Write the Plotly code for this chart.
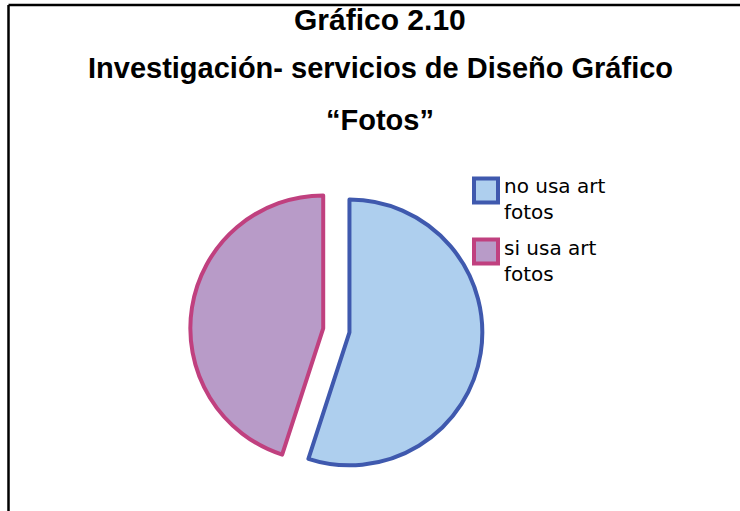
import plotly.graph_objects as go

# datos del grafico
etiquetas = ['no usa art<br>fotos', 'si usa art<br>fotos']
valores = [55, 45]
colores = ['#AECFEE', '#B89BC8']
bordes = ['#3F59AE', '#C0407F']

titulos = ['Gráfico 2.10', 'Investigación- servicios de Diseño Gráfico', '“Fotos”']

W, H = 740, 511

fig = go.Figure()
fig.add_trace(
    go.Pie(
        labels=etiquetas,
        values=valores,
        sort=False,
        direction='clockwise',
        rotation=0,
        pull=[0.1, 0.1],
        textinfo='none',
        hoverinfo='label+percent',
        marker=dict(colors=colores, line=dict(color=bordes, width=4)),
        domain=dict(x=[0.257, 0.652], y=[0.067, 0.64]),
        showlegend=False,
    )
)

# titulo en tres lineas
ys = [19.5, 67.5, 120.5]
tam = [30, 29, 29]
for texto, yy, s in zip(titulos, ys, tam):
    fig.add_annotation(
        text='<b>' + texto + '</b>',
        x=380 / W, y=1 - yy / H,
        xref='paper', yref='paper',
        showarrow=False,
        font=dict(family='Liberation Sans, Arial', size=s, color='black'),
        xanchor='center', yanchor='middle',
    )

# leyenda dibujada a mano (cuadros grandes como en el original)
cajas_y = [178.5, 239.5]
textos_y = [199, 261]
for i, etiqueta in enumerate(etiquetas):
    y0 = cajas_y[i]
    fig.add_shape(type='rect', xref='paper', yref='paper',
                  x0=474 / W, x1=498 / W, y0=1 - y0 / H, y1=1 - (y0 + 24) / H,
                  fillcolor=colores[i], line=dict(color=bordes[i], width=4))
    fig.add_annotation(
        text=etiqueta,
        x=502 / W, y=1 - textos_y[i] / H,
        xref='paper', yref='paper',
        showarrow=False,
        align='left',
        font=dict(family='DejaVu Sans', size=20, color='black'),
        xanchor='left', yanchor='middle',
    )

# marco del grafico
fig.add_shape(type='line', xref='paper', yref='paper',
              x0=8.5 / W, x1=1, y0=1 - 5 / H, y1=1 - 5 / H,
              line=dict(color='black', width=2.5))
fig.add_shape(type='line', xref='paper', yref='paper',
              x0=8.5 / W, x1=8.5 / W, y0=0, y1=1 - 5 / H,
              line=dict(color='black', width=2.5))

fig.update_layout(
    width=W,
    height=H,
    margin=dict(l=0, r=0, t=0, b=0),
    paper_bgcolor='white',
    plot_bgcolor='white',
    showlegend=False,
)

fig.write_html("out.html", config={'displayModeBar': False},
               post_script="document.body.style.margin='0';")
